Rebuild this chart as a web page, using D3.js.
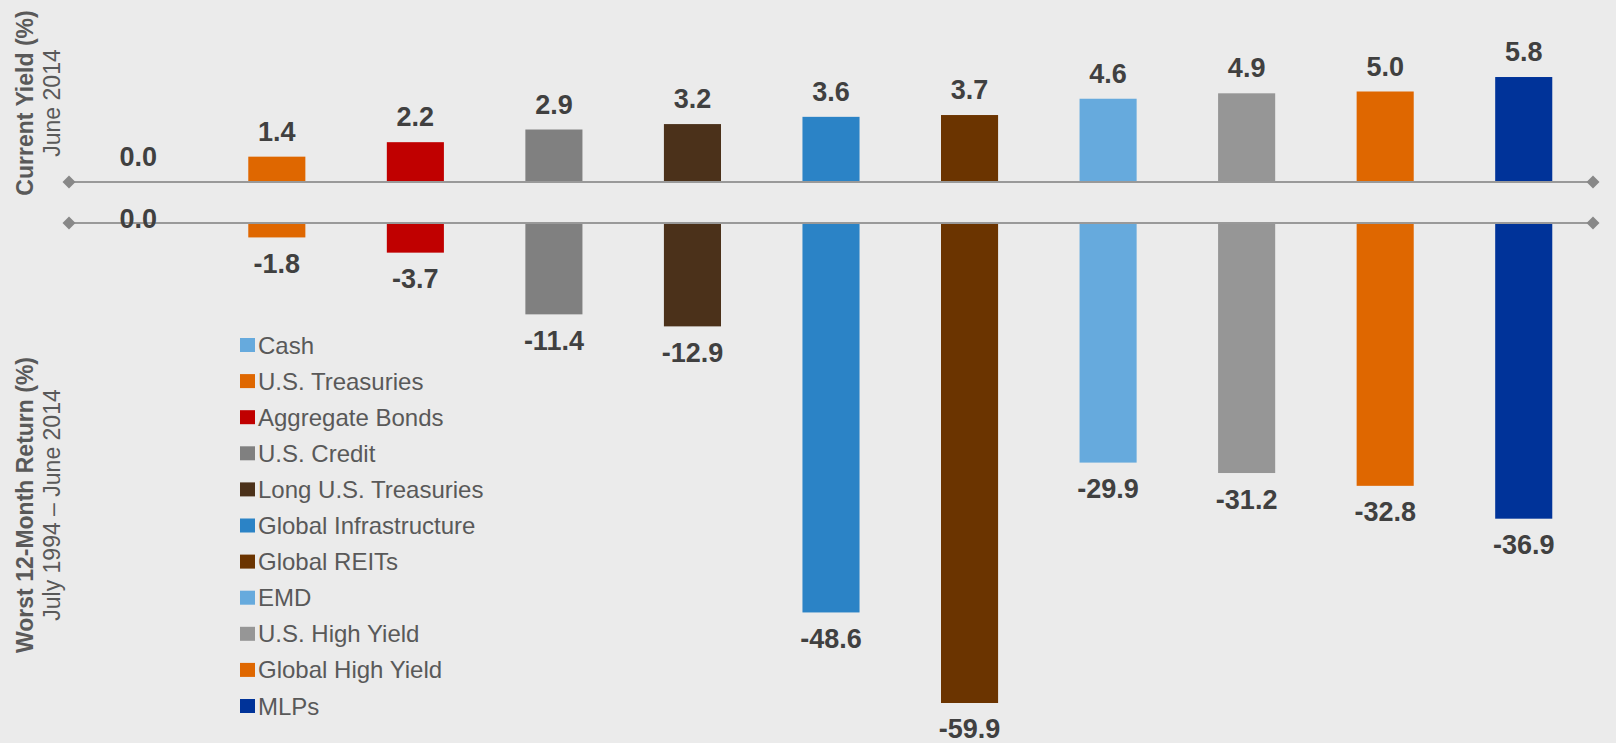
<!DOCTYPE html>
<html><head><meta charset="utf-8">
<script src="https://cdn.jsdelivr.net/npm/d3@7/dist/d3.min.js"></script>
<style>
html,body{margin:0;padding:0;background:#ebebeb;}
svg{display:block;font-family:"Liberation Sans",Arial,sans-serif;}
</style></head>
<body><svg id="chart" width="1616" height="743"></svg>
<script>
const categories = ["Cash","U.S. Treasuries","Aggregate Bonds","U.S. Credit","Long U.S. Treasuries","Global Infrastructure","Global REITs","EMD","U.S. High Yield","Global High Yield","MLPs"];
const currentYield = [0.0,1.4,2.2,2.9,3.2,3.6,3.7,4.6,4.9,5.0,5.8];
const worstReturn = [0.0,-1.8,-3.7,-11.4,-12.9,-48.6,-59.9,-29.9,-31.2,-32.8,-36.9];
const colors = ["#66aadd","#df6700","#c00000","#808080","#4b311a","#2b83c6","#6b3400","#66aadd","#969696","#df6700","#003399"];
const topTitle = "Current Yield (%)", topSub = "June 2014";
const botTitle = "Worst 12-Month Return (%)", botSub = "July 1994 \u2013 June 2014";

const svg = d3.select("#chart");
svg.append("rect").attr("width",1616).attr("height",743).attr("fill","#ebebeb");

const x = d3.scaleBand().domain(categories).range([69,1593]).paddingInner(0.588).paddingOuter(0.294);
const yTop = d3.scaleLinear().domain([0,6]).range([182,73.4]);
const yBot = d3.scaleLinear().domain([0,-60]).range([223,703.8]);
const color = d3.scaleOrdinal().domain(categories).range(colors);

const data = categories.map((c,i)=>({c, y:currentYield[i], w:worstReturn[i]}));

// top bars
svg.append("g").selectAll("rect").data(data).join("rect")
  .attr("x",d=>x(d.c)).attr("width",x.bandwidth())
  .attr("y",d=>yTop(d.y)).attr("height",d=>yTop(0)-yTop(d.y))
  .attr("fill",d=>color(d.c));
// bottom bars
svg.append("g").selectAll("rect").data(data).join("rect")
  .attr("x",d=>x(d.c)).attr("width",x.bandwidth())
  .attr("y",yBot(0)).attr("height",d=>yBot(d.w)-yBot(0))
  .attr("fill",d=>color(d.c));

// axis lines with diamond ends
function axisLine(y){
  const g = svg.append("g");
  g.append("line").attr("x1",x.range()[0]).attr("x2",x.range()[1]).attr("y1",y).attr("y2",y)
    .attr("stroke","#999").attr("stroke-width",2);
  [x.range()[0],x.range()[1]].forEach(px=>{
    g.append("path").attr("d",`M${px-6.5},${y}L${px},${y-6.5}L${px+6.5},${y}L${px},${y+6.5}Z`).attr("fill","#888");
  });
}
axisLine(yTop(0));
axisLine(yBot(0));

const fmt = v => d3.format(".1f")(v).replace("\u2212","-");
// top labels
svg.append("g").selectAll("text").data(data).join("text")
  .attr("x",d=>x(d.c)+x.bandwidth()/2).attr("y",d=>yTop(d.y)-16)
  .attr("text-anchor","middle").attr("font-size",27).attr("font-weight","bold").attr("fill","#404040")
  .text(d=>fmt(d.y));
// bottom labels
svg.append("g").selectAll("text").data(data).join("text")
  .attr("x",d=>x(d.c)+x.bandwidth()/2).attr("y",d=>d.w===0? yBot(0)+5 : yBot(d.w)+35.5)
  .attr("text-anchor","middle").attr("font-size",27).attr("font-weight","bold").attr("fill","#404040")
  .text(d=>d.w===0?"0.0":fmt(d.w));

// axis titles
function vTitle(cy,title,sub){
  svg.append("text").attr("transform",`translate(33,${cy}) rotate(-90)`).attr("text-anchor","middle")
    .attr("font-size",23).attr("font-weight","bold").attr("fill","#595959").text(title);
  svg.append("text").attr("transform",`translate(60,${cy}) rotate(-90)`).attr("text-anchor","middle")
    .attr("font-size",23).attr("fill","#595959").text(sub);
}
vTitle(103,topTitle,topSub);
vTitle(505,botTitle,botSub);

// legend
const lg = svg.append("g").attr("transform","translate(240,345)");
const items = lg.selectAll("g").data(categories).join("g").attr("transform",(d,i)=>`translate(0,${i*36.1})`);
items.append("rect").attr("x",0).attr("y",-7).attr("width",15).attr("height",14).attr("fill",d=>color(d));
items.append("text").attr("x",18).attr("y",8.5).attr("font-size",24).attr("fill","#595959").text(d=>d);
</script></body></html>
